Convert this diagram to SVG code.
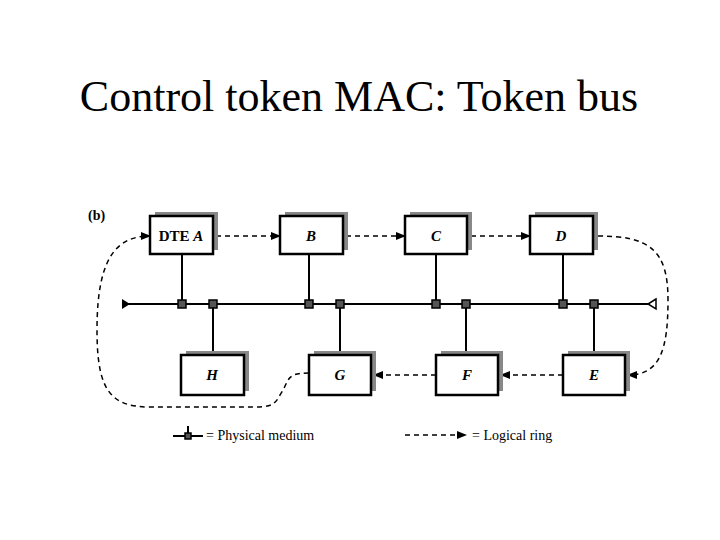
<svg xmlns="http://www.w3.org/2000/svg" width="720" height="540" viewBox="0 0 720 540">
<style>
.box{fill:#fff;stroke:#000;stroke-width:2.5}
.sh{fill:#888}
.lbl{font-family:"Liberation Serif",serif;font-size:15px;font-style:italic;font-weight:bold;text-anchor:middle}
.wire{stroke:#000;stroke-width:2;fill:none}
.ring{stroke:#000;stroke-width:1.5;fill:none;stroke-dasharray:5,4}
.tap{fill:#555;stroke:#000;stroke-width:1.5}
</style>
<defs>
<marker id="ar" markerWidth="10" markerHeight="8" refX="9" refY="4" orient="auto" markerUnits="userSpaceOnUse"><path d="M0,0L10,4L0,8z" fill="#000"/></marker>
</defs>
<rect width="720" height="540" fill="#fff"/>
<text x="359" y="111" font-family="Liberation Serif,serif" font-size="44" text-anchor="middle">Control token MAC: Token bus</text>
<text x="88" y="220" font-family="Liberation Serif,serif" font-size="14" font-weight="bold">(b)</text>
<g id="connectors">
<line class="wire" x1="128" y1="304" x2="650" y2="304"/>
<path d="M122,299L130,304L122,309z" fill="#000"/>
<path d="M656,299L648,304L656,309z" fill="none" stroke="#000" stroke-width="1.5"/>
<line class="wire" x1="182" y1="254" x2="182" y2="304"/>
<line class="wire" x1="213" y1="304" x2="213" y2="355"/>
<line class="wire" x1="309" y1="254" x2="309" y2="304"/>
<line class="wire" x1="340" y1="304" x2="340" y2="355"/>
<line class="wire" x1="436" y1="254" x2="436" y2="304"/>
<line class="wire" x1="466" y1="304" x2="466" y2="355"/>
<line class="wire" x1="563" y1="254" x2="563" y2="304"/>
<line class="wire" x1="594" y1="304" x2="594" y2="355"/>
<g class="tap"><rect x="178" y="300" width="8" height="8"/><rect x="209" y="300" width="8" height="8"/><rect x="305" y="300" width="8" height="8"/><rect x="336" y="300" width="8" height="8"/><rect x="432" y="300" width="8" height="8"/><rect x="462" y="300" width="8" height="8"/><rect x="559" y="300" width="8" height="8"/><rect x="590" y="300" width="8" height="8"/></g>
<line class="ring" x1="216" y1="236" x2="280" y2="236" marker-end="url(#ar)"/>
<line class="ring" x1="346" y1="236" x2="405" y2="236" marker-end="url(#ar)"/>
<line class="ring" x1="471" y1="236" x2="530" y2="236" marker-end="url(#ar)"/>
<path class="ring" d="M598,236 C650,236 668,250 668,300 C668,350 660,375 628,375" marker-end="url(#ar)"/>
<line class="ring" x1="563" y1="375" x2="501" y2="375" marker-end="url(#ar)"/>
<line class="ring" x1="436" y1="375" x2="374" y2="375" marker-end="url(#ar)"/>
<path class="ring" d="M309,373 C285,373 290,380 280,395 C275,405 270,407 255,407 L150,407 C110,407 97,390 97,330 C97,260 115,236 150,236" marker-end="url(#ar)"/>
</g>
<g id="A"><rect class="sh" x="155" y="212" width="63" height="38"/><rect class="box" x="150" y="216" width="63" height="38"/><text x="181" y="241" font-family="Liberation Serif,serif" font-size="15" font-weight="bold" text-anchor="middle">DTE <tspan font-style="italic">A</tspan></text></g>
<g id="B"><rect class="sh" x="285" y="212" width="63" height="38"/><rect class="box" x="280" y="216" width="63" height="38"/><text class="lbl" x="311" y="241">B</text></g>
<g id="C"><rect class="sh" x="410" y="212" width="62" height="38"/><rect class="box" x="405" y="216" width="62" height="38"/><text class="lbl" x="436" y="241">C</text></g>
<g id="D"><rect class="sh" x="535" y="212" width="63" height="38"/><rect class="box" x="530" y="216" width="63" height="38"/><text class="lbl" x="561" y="241">D</text></g>
<g id="H"><rect class="sh" x="186" y="351" width="63" height="40"/><rect class="box" x="181" y="355" width="63" height="40"/><text class="lbl" x="212" y="380">H</text></g>
<g id="G"><rect class="sh" x="314" y="351" width="62" height="40"/><rect class="box" x="309" y="355" width="62" height="40"/><text class="lbl" x="340" y="380">G</text></g>
<g id="F"><rect class="sh" x="441" y="351" width="62" height="40"/><rect class="box" x="436" y="355" width="62" height="40"/><text class="lbl" x="467" y="380">F</text></g>
<g id="E"><rect class="sh" x="568" y="351" width="62" height="40"/><rect class="box" x="563" y="355" width="62" height="40"/><text class="lbl" x="594" y="380">E</text></g>
<g id="legend">
<line class="wire" x1="173" y1="436" x2="203" y2="436"/><line class="wire" x1="188" y1="426" x2="188" y2="436"/><rect class="tap" x="185" y="433" width="6" height="6"/>
<text x="206" y="440" font-family="Liberation Serif,serif" font-size="14">= Physical medium</text>
<line class="ring" x1="405" y1="435" x2="466" y2="435" stroke-width="1" marker-end="url(#ar)"/>
<text x="472" y="440" font-family="Liberation Serif,serif" font-size="14">= Logical ring</text>
</g>
</svg>
